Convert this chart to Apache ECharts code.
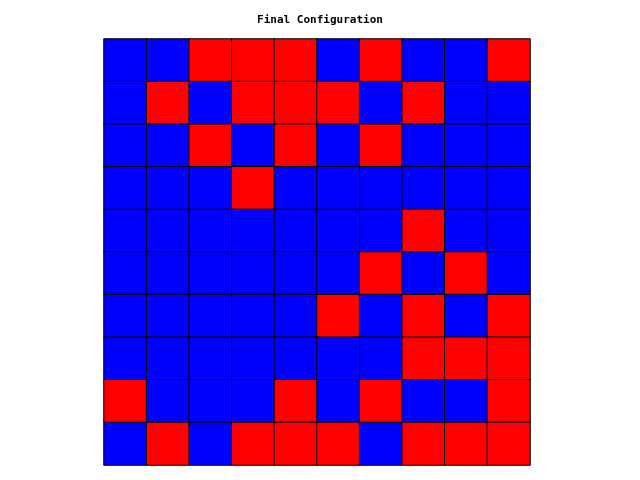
<!DOCTYPE html>
<html>
<head>
<meta charset="utf-8">
<script src="https://cdn.jsdelivr.net/npm/echarts@6/dist/echarts.min.js"></script>
<style>
  html, body { margin: 0; padding: 0; background: #fff; }
  #chart { width: 640px; height: 480px; }
</style>
</head>
<body>
<div id="chart"></div>
<script>
// 1 = red, 0 = blue; rows listed top to bottom
const rows = [
  [0, 0, 1, 1, 1, 0, 1, 0, 0, 1],
  [0, 1, 0, 1, 1, 1, 0, 1, 0, 0],
  [0, 0, 1, 0, 1, 0, 1, 0, 0, 0],
  [0, 0, 0, 1, 0, 0, 0, 0, 0, 0],
  [0, 0, 0, 0, 0, 0, 0, 1, 0, 0],
  [0, 0, 0, 0, 0, 0, 1, 0, 1, 0],
  [0, 0, 0, 0, 0, 1, 0, 1, 0, 1],
  [0, 0, 0, 0, 0, 0, 0, 1, 1, 1],
  [1, 0, 0, 0, 1, 0, 1, 0, 0, 1],
  [0, 1, 0, 1, 1, 1, 0, 1, 1, 1],
];
const cols = [0, 1, 2, 3, 4, 5, 6, 7, 8, 9];

const cells = [];
rows.forEach((row, y) => {
  row.forEach((v, x) => {
    cells.push([x, y, v]);
  });
});

const option = {
  backgroundColor: '#fff',
  animation: false,
  title: {
    text: 'Final Configuration',
    left: 'center',
    top: 10,
    textStyle: {
      fontFamily: 'DejaVu Sans Mono',
      fontSize: 11,
      fontWeight: 'bold',
      color: '#000',
    },
  },
  grid: {
    left: 104,
    top: 39,
    width: 426,
    height: 426,
  },
  xAxis: {
    type: 'category',
    data: cols,
    show: false,
  },
  yAxis: {
    type: 'category',
    data: cols,
    inverse: true,
    show: false,
  },
  visualMap: {
    show: false,
    type: 'piecewise',
    dimension: 2,
    pieces: [
      { value: 0, color: '#0000ff' },
      { value: 1, color: '#ff0000' },
    ],
  },
  series: [
    {
      type: 'heatmap',
      data: cells,
      itemStyle: {
        borderColor: '#000',
        borderWidth: 1,
      },
      emphasis: { disabled: true },
    },
  ],
};

const chart = echarts.init(document.getElementById('chart'));
chart.setOption(option);
</script>
</body>
</html>
